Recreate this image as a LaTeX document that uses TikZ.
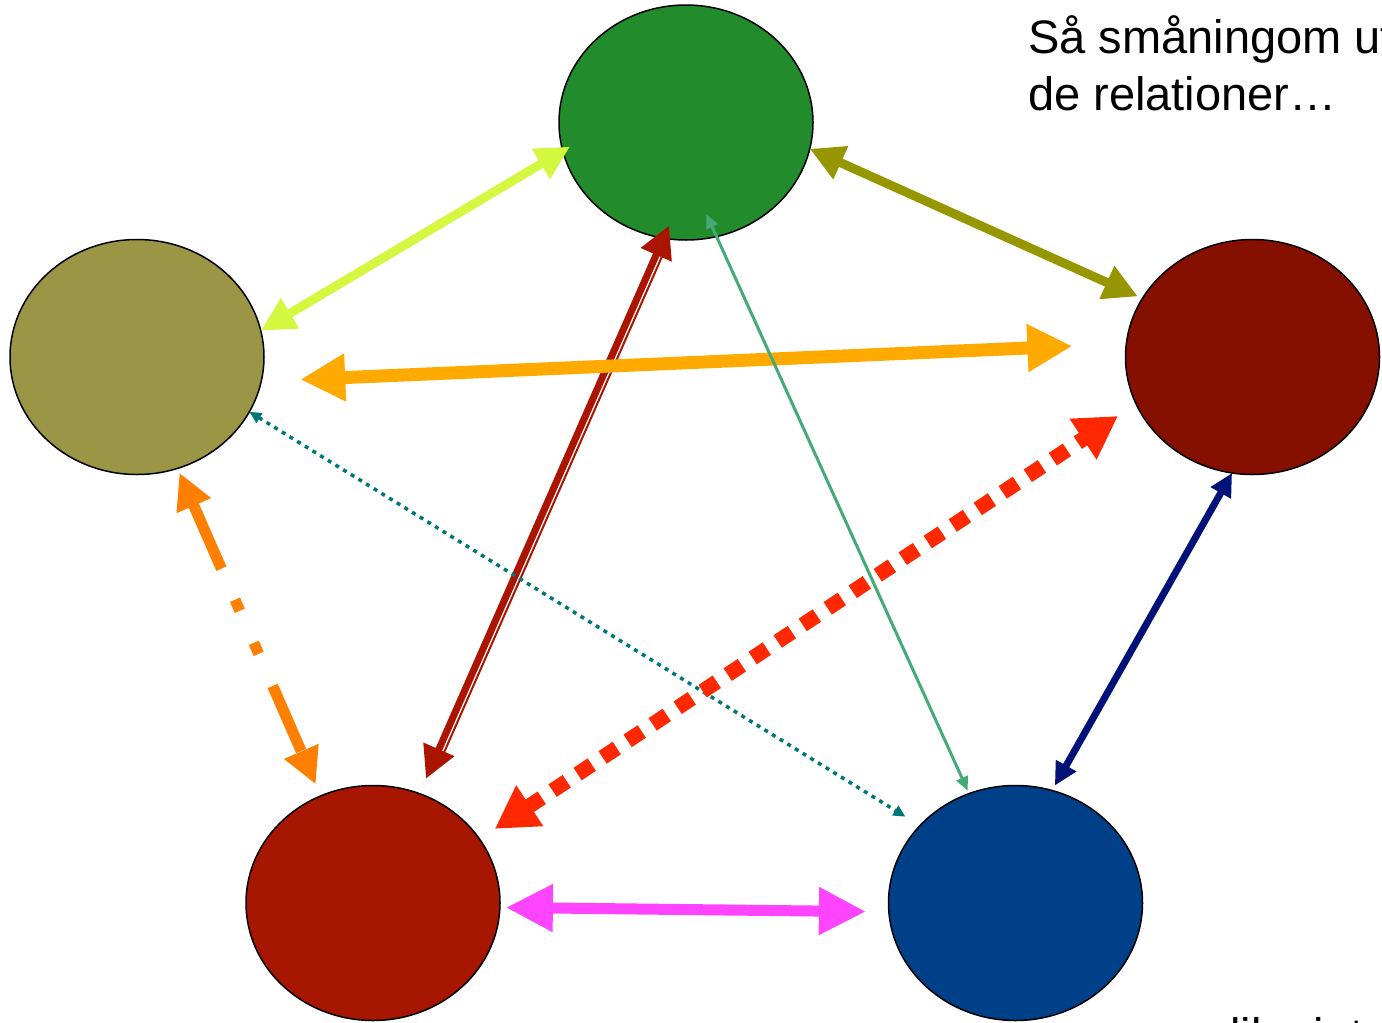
\documentclass[tikz,border=0pt]{standalone}
\usepackage{fontspec}
\setmainfont{Liberation Sans}
\usetikzlibrary{shapes.geometric,arrows.meta}
\definecolor{cgreen}{HTML}{228B2B}
\definecolor{colive}{HTML}{9B9646}
\definecolor{crred}{HTML}{861000}
\definecolor{clred}{HTML}{A61600}
\definecolor{cblue}{HTML}{004088}
\definecolor{ayg}{HTML}{D4F840}
\definecolor{aolive}{HTML}{969600}
\definecolor{aorange}{HTML}{FFAA00}
\definecolor{ared}{HTML}{FF2800}
\definecolor{aorangetwo}{HTML}{FF8000}
\definecolor{amaroon}{HTML}{AA1400}
\definecolor{ateal}{HTML}{007777}
\definecolor{asea}{HTML}{44AA77}
\definecolor{anavy}{HTML}{001177}
\definecolor{amag}{HTML}{FF44FF}
\begin{document}
\begin{tikzpicture}[x=1pt,y=-1pt,
  blob/.style={ellipse, draw=black, line width=1.5pt, minimum width=254pt, minimum height=235pt, inner sep=0pt, outer sep=0pt},
  tri/.style 2 args={arrows={Triangle[length=#1pt,width=#2pt]-Triangle[length=#1pt,width=#2pt]}},
  lbl/.style={font=\fontsize{47}{57}\selectfont, inner sep=0pt, anchor=base west}
]
\useasboundingbox (0,0) rectangle (1382,1023);
\node[blob, fill=cgreen] (green) at (686,122.5) {};
\node[blob, fill=colive] (olive) at (137,357) {};
\node[blob, fill=crred] (rred) at (1252.5,357) {};
\node[blob, fill=clred] (lred) at (373,903) {};
\node[blob, fill=cblue] (blue) at (1015.5,903) {};

\draw[ayg, line width=9pt, tri={34}{33}, shorten >=-8.5pt] (olive.12.7) -- (green.193.4);
\draw[aolive, line width=9pt, tri={34}{34}, shorten >=5pt] (green.-12) -- (rred.152.9);
\draw[amaroon, line width=7pt, tri={32}{32}, shorten <=-13.8pt, shorten >=16.4pt] (green.-101) -- (lred.67.8);
\draw[amaroon, line width=2pt, transform canvas={shift={(5.5,2.4)}}, shorten <=18pt, shorten >=46pt] (green.-101) -- (lred.67.8);
\draw[aorange, line width=13pt, tri={45}{45}, shorten <=39pt, shorten >=54pt] (olive.-11.7) -- (rred.174.9);
\draw[ateal, line width=3.5pt, tri={12}{11}, dash pattern=on 4pt off 5pt, shorten >=17pt] (olive.-26.4) -- (blue.141.5);
\draw[ared, line width=15pt, tri={42}{46}, dash pattern=on 17pt off 13pt, shorten <=18.3pt, shorten >=21.7pt] (lred.31.55) -- (rred.202);
\draw[asea, line width=3pt, tri={14}{12}, shorten <=-24.7pt, shorten >=3.2pt] (green.-75.1) -- (blue.113.4);
\draw[anavy, line width=7pt, tri={23}{22}, shorten >=5.6pt] (rred.-100.1) -- (blue.72.2);
\draw[amag, line width=11pt, tri={47}{45}, shorten <=6pt, shorten >=23pt] (lred.-2.2) -- (blue.184.6);
\draw[aorangetwo, line width=11pt, tri={36}{35}, dash pattern=on 71pt off 34pt on 12pt off 35pt on 12pt off 35pt, shorten <=4.7pt, shorten >=12.6pt] (olive.-70.5) -- (lred.116.2);

\node[lbl] (t1) at (1028,53) {Så småningom ut};
\node[lbl] (t2) at (1028,110) {de relationer…};
\node[lbl] (t3) at (1230,1051) {lika int};
\end{tikzpicture}
\end{document}
